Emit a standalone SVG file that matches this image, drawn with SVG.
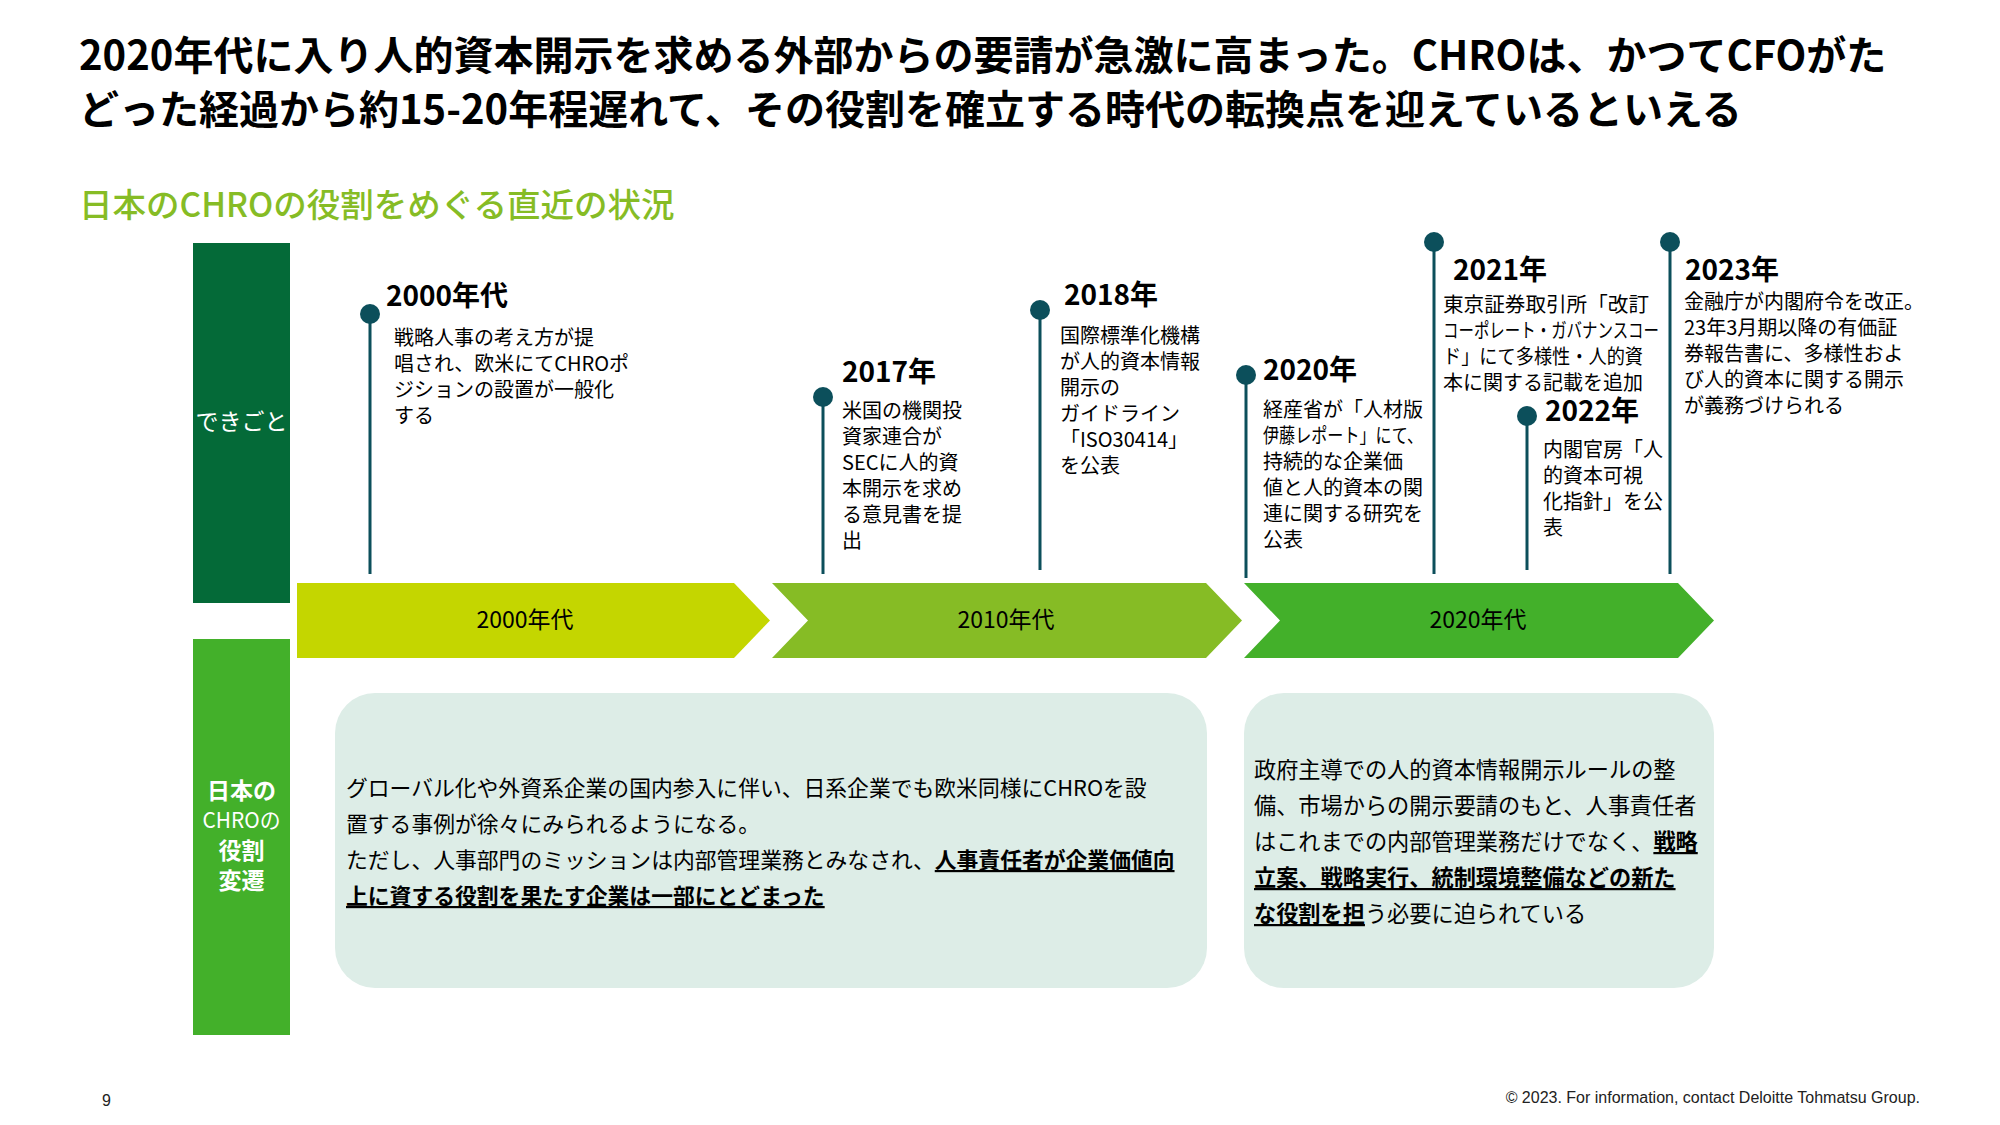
<svg xmlns="http://www.w3.org/2000/svg" width="2000" height="1125" viewBox="0 0 2000 1125">
<style>
  text { font-family: "Noto Sans CJK JP", "Noto Sans", sans-serif; fill: #000; }
  .title { font-size: 40px; font-weight: 700; }
  .sub { font-size: 33.5px; fill: #86BC25; font-weight: 500; }
  .side { fill: #fff; font-size: 23px; text-anchor: middle; }
  .side2 { fill: #fff; font-size: 23px; font-weight: 700; text-anchor: middle; }
  .side2n { fill: #fff; font-size: 22px; font-weight: 400; text-anchor: middle; }
  .era { font-size: 23px; text-anchor: middle; }
  .yr { font-size: 28px; font-weight: 700; }
  .desc { font-size: 20px; }
  .b1 { font-size: 21.8px; }
  .b2 { font-size: 22.2px; }
  .em { font-weight: 700; text-decoration: underline; }
  .dot { fill: #0C4F5B; }
  .stem { stroke: #0C4F5B; stroke-width: 3; fill: none; }
  .box { fill: #DDEDE7; }
  .foot { font-family: "Liberation Sans", Arial, sans-serif; font-size: 16px; fill: #222; }
</style>

<g id="title">
  <text class="title" x="79" y="70">2020年代に入り人的資本開示を求める外部からの要請が急激に高まった。CHROは、かつてCFOがた</text>
  <text class="title" x="79" y="124">どった経過から約15-20年程遅れて、その役割を確立する時代の転換点を迎えているといえる</text>
</g>
<g id="subtitle">
  <text class="sub" x="79" y="217">日本のCHROの役割をめぐる直近の状況</text>
</g>

<g id="label-events">
  <rect x="193" y="243" width="97" height="360" fill="#046A38"/>
  <text class="side" x="241.5" y="430">できごと</text>
</g>
<g id="label-role">
  <rect x="193" y="639" width="97" height="396" fill="#43B02A"/>
  <text class="side2" x="241.5" y="799">日本の</text>
  <text class="side2n" x="241.5" y="828" textLength="78" lengthAdjust="spacingAndGlyphs">CHROの</text>
  <text class="side2" x="241.5" y="859">役割</text>
  <text class="side2" x="241.5" y="889">変遷</text>
</g>

<g id="era-2000s">
  <path d="M297,583 H734 L770,620.5 L734,658 H297 Z" fill="#C4D600"/>
  <text class="era" x="525" y="628">2000年代</text>
</g>
<g id="era-2010s">
  <path d="M772,583 H1206 L1242,620.5 L1206,658 H772 L808,620.5 Z" fill="#86BC25"/>
  <text class="era" x="1006" y="628">2010年代</text>
</g>
<g id="era-2020s">
  <path d="M1244,583 H1678 L1714,620.5 L1678,658 H1244 L1280,620.5 Z" fill="#43B02A"/>
  <text class="era" x="1478" y="628">2020年代</text>
</g>

<g id="connectors">
  <line class="stem" x1="370" y1="314" x2="370" y2="574"/>
  <line class="stem" x1="823" y1="397" x2="823" y2="574"/>
  <line class="stem" x1="1040" y1="310" x2="1040" y2="570"/>
  <line class="stem" x1="1246" y1="375" x2="1246" y2="578"/>
  <line class="stem" x1="1434" y1="242" x2="1434" y2="574"/>
  <line class="stem" x1="1527" y1="416" x2="1527" y2="570"/>
  <line class="stem" x1="1670" y1="242" x2="1670" y2="574"/>
</g>

<g id="event-2000s">
  <circle class="dot" cx="370" cy="314" r="10"/>
  <text class="yr" x="386" y="306">2000年代</text>
  <text class="desc" x="394" y="345">戦略人事の考え方が提</text>
  <text class="desc" x="394" y="371">唱され、欧米にてCHROポ</text>
  <text class="desc" x="394" y="397">ジションの設置が一般化</text>
  <text class="desc" x="394" y="423">する</text>
</g>
<g id="event-2017">
  <circle class="dot" cx="823" cy="397" r="10"/>
  <text class="yr" x="842" y="382">2017年</text>
  <text class="desc" x="842" y="418">米国の機関投</text>
  <text class="desc" x="842" y="444">資家連合が</text>
  <text class="desc" x="842" y="470">SECに人的資</text>
  <text class="desc" x="842" y="496">本開示を求め</text>
  <text class="desc" x="842" y="522">る意見書を提</text>
  <text class="desc" x="842" y="548">出</text>
</g>
<g id="event-2018">
  <circle class="dot" cx="1040" cy="310" r="10"/>
  <text class="yr" x="1064" y="305">2018年</text>
  <text class="desc" x="1060" y="343">国際標準化機構</text>
  <text class="desc" x="1060" y="369">が人的資本情報</text>
  <text class="desc" x="1060" y="395">開示の</text>
  <text class="desc" x="1060" y="421">ガイドライン</text>
  <text class="desc" x="1060" y="447">「ISO30414」</text>
  <text class="desc" x="1060" y="473">を公表</text>
</g>
<g id="event-2020">
  <circle class="dot" cx="1246" cy="375" r="10"/>
  <text class="yr" x="1263" y="380">2020年</text>
  <text class="desc" x="1263" y="417">経産省が「人材版</text>
  <text class="desc" x="1263" y="443" textLength="160" lengthAdjust="spacingAndGlyphs">伊藤レポート」にて、</text>
  <text class="desc" x="1263" y="469">持続的な企業価</text>
  <text class="desc" x="1263" y="495">値と人的資本の関</text>
  <text class="desc" x="1263" y="521">連に関する研究を</text>
  <text class="desc" x="1263" y="547">公表</text>
</g>
<g id="event-2021">
  <circle class="dot" cx="1434" cy="242" r="10"/>
  <text class="yr" x="1453" y="280">2021年</text>
  <text class="desc" x="1443" y="312" textLength="206" lengthAdjust="spacingAndGlyphs">東京証券取引所「改訂</text>
  <text class="desc" x="1443" y="338" textLength="216" lengthAdjust="spacingAndGlyphs">コーポレート・ガバナンスコー</text>
  <text class="desc" x="1443" y="364" textLength="200" lengthAdjust="spacingAndGlyphs">ド」にて多様性・人的資</text>
  <text class="desc" x="1443" y="390">本に関する記載を追加</text>
</g>
<g id="event-2022">
  <circle class="dot" cx="1527" cy="416" r="10"/>
  <text class="yr" x="1545" y="421">2022年</text>
  <text class="desc" x="1543" y="457">内閣官房「人</text>
  <text class="desc" x="1543" y="483">的資本可視</text>
  <text class="desc" x="1543" y="509">化指針」を公</text>
  <text class="desc" x="1543" y="535">表</text>
</g>
<g id="event-2023">
  <circle class="dot" cx="1670" cy="242" r="10"/>
  <text class="yr" x="1685" y="280">2023年</text>
  <text class="desc" x="1684" y="309">金融庁が内閣府令を改正。</text>
  <text class="desc" x="1684" y="335">23年3月期以降の有価証</text>
  <text class="desc" x="1684" y="361">券報告書に、多様性およ</text>
  <text class="desc" x="1684" y="387">び人的資本に関する開示</text>
  <text class="desc" x="1684" y="413">が義務づけられる</text>
</g>

<g id="role-2000s-2010s">
  <rect class="box" x="335" y="693" width="872" height="295" rx="40" ry="40"/>
  <text class="b1" x="346" y="796">グローバル化や外資系企業の国内参入に伴い、日系企業でも欧米同様にCHROを設</text>
  <text class="b1" x="346" y="832">置する事例が徐々にみられるようになる。</text>
  <text class="b1" x="346" y="868">ただし、人事部門のミッションは内部管理業務とみなされ、<tspan class="em">人事責任者が企業価値向</tspan></text>
  <text class="b1" x="346" y="904"><tspan class="em">上に資する役割を果たす企業は一部にとどまった</tspan></text>
</g>
<g id="role-2020s">
  <rect class="box" x="1244" y="693" width="470" height="295" rx="40" ry="40"/>
  <text class="b2" x="1254" y="778">政府主導での人的資本情報開示ルールの整</text>
  <text class="b2" x="1254" y="814">備、市場からの開示要請のもと、人事責任者</text>
  <text class="b2" x="1254" y="850">はこれまでの内部管理業務だけでなく、<tspan class="em">戦略</tspan></text>
  <text class="b2" x="1254" y="886"><tspan class="em">立案、戦略実行、統制環境整備などの新た</tspan></text>
  <text class="b2" x="1254" y="922"><tspan class="em">な役割を担</tspan>う必要に迫られている</text>
</g>

<g id="footer">
  <text class="foot" x="102" y="1106">9</text>
  <text class="foot" x="1920" y="1103" text-anchor="end">© 2023. For information, contact Deloitte Tohmatsu Group.</text>
</g>
</svg>
